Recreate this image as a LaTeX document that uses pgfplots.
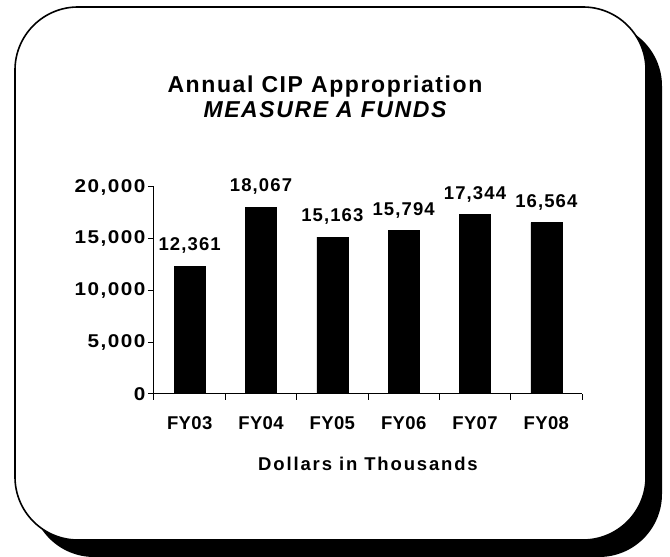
\documentclass[border=0pt]{standalone}
\usepackage{fontspec}
\setmainfont{Liberation Sans}
\newfontfamily\titlefont[LetterSpace=7]{Liberation Sans}
\newfontfamily\labfont[LetterSpace=6]{Liberation Sans}
\newfontfamily\yfont[LetterSpace=8,FakeStretch=1.12]{Liberation Sans}
\newfontfamily\catfont[LetterSpace=2]{Liberation Sans}
\newfontfamily\xlabfont[LetterSpace=10]{Liberation Sans}
\usepackage{pgfplots}
\pgfplotsset{compat=1.18}

\begin{document}
\begin{tikzpicture}[x=1pt,y=1pt]
\useasboundingbox (0,0) rectangle (670,557);
% shadow and frame
\fill[black, rounded corners=63pt] (31,0) rectangle (662,534);
\draw[black, line width=1.6pt, fill=white, rounded corners=63pt] (15,17) rectangle (646,550);
% title
\node[font=\titlefont\fontsize{23}{27}\selectfont\bfseries, anchor=base, inner sep=0pt] at (325,464) {Annual CIP Appropriation};
\node[font=\titlefont\fontsize{23}{27}\selectfont\bfseries\itshape, anchor=base, inner sep=0pt] at (325,439) {MEASURE A FUNDS};
\begin{axis}[
  at={(154pt,163pt)}, anchor=south west,
  scale only axis, width=428pt, height=207pt,
  ybar, bar width=31pt,
  xmin=0.5, xmax=6.5, ymin=0, ymax=20000,
  axis x line*=bottom, axis y line*=left,
  axis line style={line width=1pt},
  xtick={1,...,6},
  xticklabels={FY03,FY04,FY05,FY06,FY07,FY08},
  minor xtick={0.5,1.5,...,6.5},
  major x tick style={draw=none},
  minor tick length=6pt,
  ytick={0,5000,...,20000},
  major tick length=6pt,
  tick align=outside,
  tick style={black, line width=1pt},
  scaled y ticks=false,
  /pgf/number format/.cd, fixed, precision=0, 1000 sep={,}, assume math mode=true, /pgfplots/.cd,
  yticklabel style={font=\yfont\fontsize{18.5}{22}\selectfont\bfseries, xshift=1pt},
  xticklabel style={font=\catfont\fontsize{18.5}{22}\selectfont\bfseries, yshift=-13pt},
  nodes near coords,
  every node near coord/.append style={font=\labfont\fontsize{18.5}{22}\selectfont\bfseries, yshift=9pt},
  xlabel={Dollars in Thousands},
  xlabel style={font=\xlabfont\fontsize{18.5}{22}\selectfont\bfseries, yshift=-21pt},
]
\addplot[fill=black, draw=black] coordinates {(1,12361) (2,18067) (3,15163) (4,15794) (5,17344) (6,16564)};
\end{axis}
\end{tikzpicture}
\end{document}
